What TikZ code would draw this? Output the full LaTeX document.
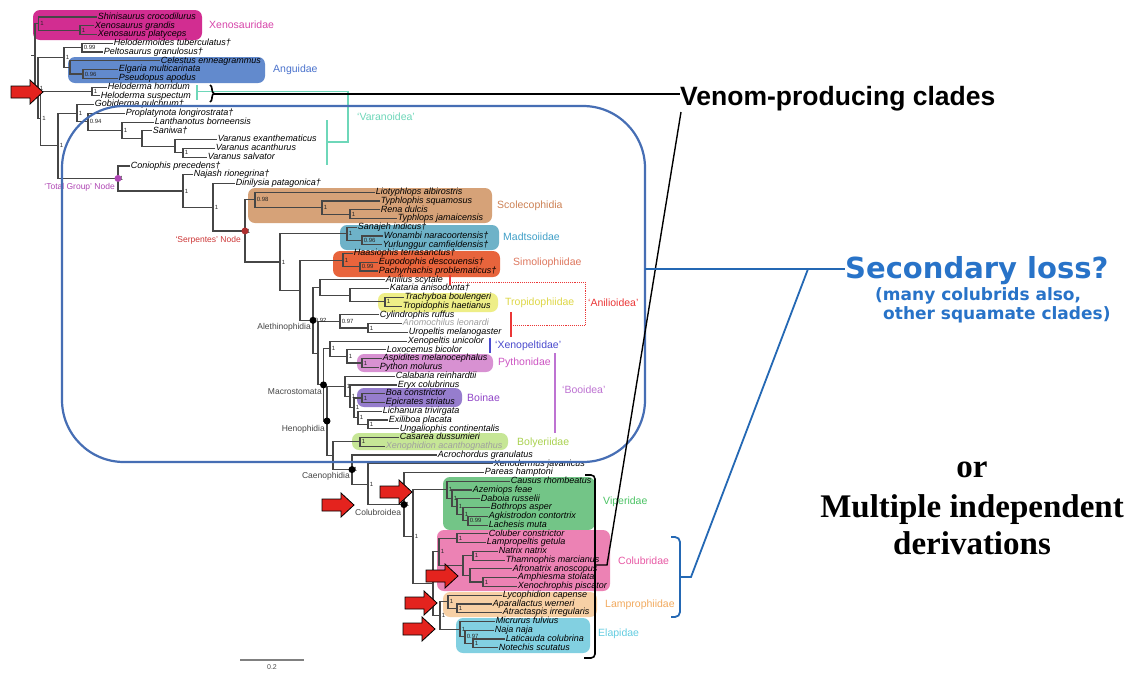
\documentclass[tikz,border=0pt]{standalone}
\usepackage{fontspec}
\setmainfont{Liberation Sans}
\newfontfamily\serifbold{Liberation Serif}
\newfontfamily\dejav{DejaVu Sans}
\usetikzlibrary{calc,decorations.pathreplacing}
\definecolor{treeg}{RGB}{70,70,70}
\definecolor{xenoF}{RGB}{210,45,145}
\definecolor{xenoT}{RGB}{215,70,170}
\definecolor{angF}{RGB}{98,138,205}
\definecolor{angT}{RGB}{75,115,205}
\definecolor{scoF}{RGB}{214,162,120}
\definecolor{scoT}{RGB}{205,130,85}
\definecolor{madF}{RGB}{110,178,200}
\definecolor{madT}{RGB}{65,160,200}
\definecolor{simF}{RGB}{232,100,60}
\definecolor{simT}{RGB}{222,120,95}
\definecolor{troF}{RGB}{238,238,135}
\definecolor{troT}{RGB}{222,215,70}
\definecolor{aniT}{RGB}{235,55,55}
\definecolor{xpT}{RGB}{75,75,205}
\definecolor{pyF}{RGB}{216,145,210}
\definecolor{pyT}{RGB}{205,85,195}
\definecolor{booT}{RGB}{190,115,210}
\definecolor{boaF}{RGB}{150,125,205}
\definecolor{boaT}{RGB}{145,70,200}
\definecolor{bolF}{RGB}{198,230,150}
\definecolor{bolT}{RGB}{170,210,80}
\definecolor{vipF}{RGB}{115,197,135}
\definecolor{vipT}{RGB}{75,195,100}
\definecolor{colF}{RGB}{236,130,180}
\definecolor{colT}{RGB}{232,90,165}
\definecolor{lamF}{RGB}{247,208,165}
\definecolor{lamT}{RGB}{242,170,95}
\definecolor{elaF}{RGB}{130,208,225}
\definecolor{elaT}{RGB}{100,205,225}
\definecolor{varT}{RGB}{110,215,185}
\definecolor{tgP}{RGB}{175,70,180}
\definecolor{serR}{RGB}{205,55,55}
\definecolor{blueL}{RGB}{70,110,180}
\definecolor{blueT}{RGB}{40,115,200}
\definecolor{arrR}{RGB}{228,35,30}
\definecolor{labg}{RGB}{70,70,70}
\tikzset{
  tipl/.style={anchor=west, inner sep=0.6pt, font=\fontsize{9}{9}\selectfont\itshape, text height=6.3pt, text depth=1.7pt, text=black},
  br/.style={draw=treeg, line width=1.15pt},
  supl/.style={anchor=west, inner sep=0.4pt, font=\fontsize{6}{6}\selectfont, text=black!85},
  clade/.style={anchor=west, inner sep=0pt, font=\fontsize{10.5}{11}\selectfont},
  nlab/.style={inner sep=0pt, font=\fontsize{8.5}{9}\selectfont, text=labg},
  cbox/.style={rounded corners=7pt},
  ndot/.style={circle, fill=black, inner sep=0pt, minimum size=7pt},
  redarrow/.style={fill=arrR, draw=black, line width=0.8pt, line join=miter},
}
\newcommand\tx[4][]{\coordinate (p#2) at (#3,{17+(#2-1)*8.76}); \node[tipl,#1] (t#2) at (p#2) {#4};}
\newcommand\mknode[4]{\path let \p1=($(#3)!.5!(#4)$) in coordinate (#1) at (#2pt,\y1); \draw[br] (#3) -| (#1) |- (#4);}
\newcommand\supv[2]{\node[supl] at ([xshift=1.2pt]#1) {#2};}
\newcommand\redarr[2]{\draw[redarrow] (#1,#2) -- ++(-13,-12) -- ++(0,6) -- ++(-19,0) -- ++(0,12) -- ++(19,0) -- ++(0,6) -- cycle;}
\begin{document}
\begin{tikzpicture}[x=1pt,y=-1pt]
\useasboundingbox (0,0) rectangle (1130,673);
\fill[white] (0,0) rectangle (1130,673);
% clade boxes
\fill[xenoF,cbox] (33,10) rectangle (202,40);
\fill[angF,cbox] (68,57) rectangle (265,83);
\fill[scoF,cbox] (248,188) rectangle (492,223);
\fill[madF,cbox] (340,225) rectangle (499,250);
\fill[simF,cbox] (333,251) rectangle (500,277);
\fill[troF,cbox] (378,293) rectangle (498,312);
\fill[pyF,cbox] (357,354) rectangle (493,372);
\fill[boaF,cbox] (357,388) rectangle (462,407);
\fill[bolF,cbox] (352,433) rectangle (508,450);
\fill[vipF,cbox] (443,477) rectangle (595,530);
\fill[colF,cbox] (437,530) rectangle (610,591);
\fill[lamF,cbox] (443,592) rectangle (597,617);
\fill[elaF,cbox] (456,618) rectangle (590,653);
% tips
\tx{1}{97}{Shinisaurus crocodilurus}
\tx{2}{94}{Xenosaurus grandis}
\tx{3}{97}{Xenosaurus platyceps}
\tx{4}{113}{Helodermoides tuberculatus†}
\tx{5}{103}{Peltosaurus granulosus†}
\tx{6}{160}{Celestus enneagrammus}
\tx{7}{118}{Elgaria multicarinata}
\tx{8}{118}{Pseudopus apodus}
\tx{9}{107}{Heloderma horridum}
\tx{10}{100}{Heloderma suspectum}
\tx{11}{94}{Gobiderma pulchrum†}
\tx{12}{125}{Proplatynota longirostrata†}
\tx{13}{154}{Lanthanotus borneensis}
\tx{14}{152}{Saniwa†}
\tx{15}{217}{Varanus exanthematicus}
\tx{16}{215}{Varanus acanthurus}
\tx{17}{207}{Varanus salvator}
\tx{18}{130}{Coniophis precedens†}
\tx{19}{193}{Najash rionegrina†}
\tx{20}{235}{Dinilysia patagonica†}
\tx{21}{375}{Liotyphlops albirostris}
\tx{22}{380}{Typhlophis squamosus}
\tx{23}{380}{Rena dulcis}
\tx{24}{397}{Typhlops jamaicensis}
\tx{25}{357}{Sanajeh indicus†}
\tx{26}{383}{Wonambi naracoortensis†}
\tx{27}{382}{Yurlunggur camfieldensis†}
\tx{28}{353}{Haasiophis terrasanctus†}
\tx{29}{378}{Eupodophis descouensis†}
\tx{30}{378}{Pachyrhachis problematicus†}
\tx{31}{385}{Anilius scytale}
\tx{32}{389}{Kataria anisodonta†}
\tx{33}{404}{Trachyboa boulengeri}
\tx{34}{402}{Tropidophis haetianus}
\tx{35}{379}{Cylindrophis ruffus}
\tx[text=gray!75]{36}{402}{Anomochilus leonardi}
\tx{37}{408}{Uropeltis melanogaster}
\tx{38}{407}{Xenopeltis unicolor}
\tx{39}{386}{Loxocemus bicolor}
\tx{40}{382}{Aspidites melanocephalus}
\tx{41}{379}{Python molurus}
\tx{42}{395}{Calabaria reinhardtii}
\tx{43}{397}{Eryx colubrinus}
\tx{44}{385}{Boa constrictor}
\tx{45}{385}{Epicrates striatus}
\tx{46}{382}{Lichanura trivirgata}
\tx{47}{388}{Exiliboa placata}
\tx{48}{399}{Ungaliophis continentalis}
\tx{49}{399}{Casarea dussumieri}
\tx[text=gray!75]{50}{385}{Xenophidion acanthognathus}
\tx{51}{437}{Acrochordus granulatus}
\tx{52}{493}{Xenodermus javanicus}
\tx{53}{484}{Pareas hamptoni}
\tx{54}{510}{Causus rhombeatus}
\tx{55}{472}{Azemiops feae}
\tx{56}{480}{Daboia russelii}
\tx{57}{490}{Bothrops asper}
\tx{58}{488}{Agkistrodon contortrix}
\tx{59}{488}{Lachesis muta}
\tx{60}{488}{Coluber constrictor}
\tx{61}{486}{Lampropeltis getula}
\tx{62}{498}{Natrix natrix}
\tx{63}{505}{Thamnophis marcianus}
\tx{64}{512}{Afronatrix anoscopus}
\tx{65}{517}{Amphiesma stolata}
\tx{66}{517}{Xenochrophis piscator}
\tx{67}{502}{Lycophidion capense}
\tx{68}{492}{Aparallactus werneri}
\tx{69}{502}{Atractaspis irregularis}
\tx{70}{495}{Micrurus fulvius}
\tx{71}{494}{Naja naja}
\tx{72}{505}{Laticauda colubrina}
\tx{73}{498}{Notechis scutatus}
% tree: Anguimorpha
\mknode{Nxg}{80}{p2}{p3}
\mknode{Nxeno}{38.5}{p1}{Nxg}
\mknode{Nhp}{82}{p4}{p5}
\mknode{Nep}{83}{p7}{p8}
\mknode{Nangu}{70}{p6}{Nep}
\mknode{Nang}{64}{Nhp}{Nangu}
\mknode{Nhelo}{92}{p9}{p10}
\mknode{NV6}{183}{p16}{p17}
\mknode{NV5}{175}{p15}{NV6}
\mknode{NV4}{142}{p14}{NV5}
\mknode{NV3}{122}{p13}{NV4}
\mknode{NV2}{88}{p12}{NV3}
\mknode{NVar}{77}{p11}{NV2}
% snakes
\mknode{NScol3}{350}{p23}{p24}
\mknode{NScol2}{322}{p22}{NScol3}
\mknode{NScol}{255}{p21}{NScol2}
\mknode{NMad2}{362}{p26}{p27}
\mknode{NMad}{347}{p25}{NMad2}
\mknode{NSimo2}{360}{p29}{p30}
\mknode{NSimo}{343}{p28}{NSimo2}
\mknode{NTrop}{385}{p33}{p34}
\mknode{NKT}{350}{p32}{NTrop}
\mknode{NAnil}{320}{p31}{NKT}
\mknode{NUro2}{368}{p36}{p37}
\mknode{NUro}{340}{p35}{NUro2}
\mknode{NPy}{362}{p40}{p41}
\mknode{NLP}{347}{p39}{NPy}
\mknode{NPyC}{330}{p38}{NLP}
\mknode{NBoa}{362}{p44}{p45}
\mknode{NExU}{368}{p47}{p48}
\mknode{NUng}{358}{p46}{NExU}
\mknode{NB3}{354}{NBoa}{NUng}
\mknode{NB2}{350}{p43}{NB3}
\mknode{NBoo}{345}{p42}{NB2}
\mknode{NBol}{360}{p49}{p50}
% Colubroidea
\mknode{NV5v}{468}{p58}{p59}
\mknode{NV4v}{463}{p57}{NV5v}
\mknode{NV3v}{457}{p56}{NV4v}
\mknode{NV2v}{452}{p55}{NV3v}
\mknode{NVip}{447}{p54}{NV2v}
\mknode{NCL}{457}{p60}{p61}
\mknode{NNT}{473}{p62}{p63}
\mknode{NAX}{483}{p65}{p66}
\mknode{NAfr}{470}{p64}{NAX}
\mknode{NNat}{463}{NNT}{NAfr}
\mknode{NColub}{439}{NCL}{NNat}
\mknode{NLam2}{457}{p68}{p69}
\mknode{NLam}{448}{p67}{NLam2}
\mknode{NElap3}{473}{p72}{p73}
\mknode{NElap2}{465}{p71}{NElap3}
\mknode{NElap}{460}{p70}{NElap2}
\mknode{NLE}{440}{NLam}{NElap}
\mknode{NCE}{433}{NColub}{NLE}
\mknode{NCol2}{413}{NVip}{NCE}
\mknode{NCol1}{404}{p53}{NCol2}
\mknode{NC2}{368}{p52}{NCol1}
\mknode{NCaen}{352}{p51}{NC2}
\mknode{NBC}{333}{NBol}{NCaen}
\mknode{NHen}{327}{NBoo}{NBC}
\mknode{NMac}{323.5}{NPyC}{NHen}
\mknode{NA2}{318}{NUro}{NMac}
\mknode{NAleth}{313}{NAnil}{NA2}
\mknode{NS5}{300}{NSimo}{NAleth}
\mknode{NS4}{280}{NMad}{NS5}
\mknode{NSerp}{245}{NScol}{NS4}
\mknode{NS2}{213}{p20}{NSerp}
\mknode{NS1}{183}{p19}{NS2}
\mknode{NTG}{118}{p18}{NS1}
\mknode{N3}{58}{NVar}{NTG}
\mknode{N2}{40.5}{Nhelo}{N3}
\mknode{N1}{38}{Nang}{N2}
\mknode{R}{35}{Nxeno}{N1}
\draw[br] (R) -- ++(-4,0);
% support values
\supv{Nxeno}{1}\supv{Nxg}{1}\supv{Nhp}{0.99}\supv{Nang}{1}\supv{Nep}{0.96}
\supv{N1}{1}\supv{Nhelo}{1}\supv{N2}{1}\supv{NVar}{1}\supv{NV2}{0.94}
\supv{NV3}{1}\supv{N3}{1}\supv{NV6}{1}\supv{NTG}{1}\supv{NS1}{1}\supv{NS2}{1}
\supv{NScol}{0.98}\supv{NSerp}{1}\supv{NScol2}{1}\supv{NScol3}{1}\supv{NS4}{1}
\supv{NMad}{1}\supv{NMad2}{0.96}\supv{NSimo}{1}\supv{NSimo2}{0.99}\supv{NTrop}{1}
\supv{NAleth}{0.92}\supv{NUro}{0.97}\supv{NUro2}{1}\supv{NPyC}{1}\supv{NLP}{1}\supv{NPy}{1}
\supv{NBoo}{1}\supv{NB2}{1}\supv{NB3}{1}\supv{NBoa}{1}\supv{NUng}{1}\supv{NExU}{1}
\supv{NBol}{1}\supv{NCaen}{1}\supv{NC2}{1}\supv{NCol1}{1}\supv{NCol2}{1}
\supv{NVip}{1}\supv{NV2v}{1}\supv{NV3v}{1}\supv{NV4v}{1}\supv{NV5v}{0.99}
\supv{NColub}{1}\supv{NCL}{1}\supv{NNT}{1}\supv{NAX}{1}\supv{NLam}{1}\supv{NLam2}{1}
\supv{NLE}{1}\supv{NElap}{1}\supv{NElap2}{0.97}\supv{NElap3}{1}
% node dots
\node[ndot,fill=tgP] at (NTG) {};
\node[ndot,fill=serR!85!black] at (NSerp) {};
\foreach \n in {NAleth,NMac,NHen,NCaen,NCol1} \node[ndot] at (\n) {};
% node labels
\node[nlab,anchor=east,text=tgP] at (115,187) {`Total Group' Node};
\node[nlab,anchor=east,text=serR] at (241,240) {`Serpentes' Node};
\node[nlab,anchor=east] at (311,327) {Alethinophidia};
\node[nlab,anchor=east] at (322,392) {Macrostomata};
\node[nlab,anchor=east] at (325,429) {Henophidia};
\node[nlab,anchor=east] at (350,476) {Caenophidia};
\node[nlab,anchor=west] at (355,512) {Colubroidea};
% clade labels
\node[clade,text=xenoT] at (209,25) {Xenosauridae};
\node[clade,text=angT] at (273,70) {Anguidae};
\node[clade,text=varT] at (357,117) {`Varanoidea'};
\node[clade,text=scoT] at (497,206) {Scolecophidia};
\node[clade,text=madT] at (503,237) {Madtsoiidae};
\node[clade,text=simT] at (513,263) {Simoliophiidae};
\node[clade,text=troT] at (505,303) {Tropidophiidae};
\node[clade,text=aniT] at (588,303) {`Anilioidea'};
\node[clade,text=xpT] at (495,346) {`Xenopeltidae'};
\node[clade,text=pyT] at (498,363) {Pythonidae};
\node[clade,text=booT] at (562,390) {`Booidea'};
\node[clade,text=boaT] at (467,398) {Boinae};
\node[clade,text=bolT] at (517,443) {Bolyeriidae};
\node[clade,text=vipT] at (603,502) {Viperidae};
\node[clade,text=colT] at (618,561) {Colubridae};
\node[clade,text=lamT] at (605,605) {Lamprophiidae};
\node[clade,text=elaT] at (598,634) {Elapidae};
% group bars
\draw[varT,line width=1.2pt] (197,85) -- (197,100);
\draw[varT,line width=1.2pt] (197,91.5) -- (348,91.5) -- (348,142) -- (327,142);
\draw[varT,line width=1.2pt] (327,120) -- (327,165);
\draw[aniT,line width=1.5pt] (450,275) -- (450,285);
\draw[aniT,line width=1.5pt] (511,312) -- (511,337);
\draw[aniT,line width=0.9pt,densely dotted] (450,282) -- (585,282) -- (585,325) -- (511,325);
\draw[xpT,line width=1.4pt] (490,338) -- (490,353);
\draw[booT,line width=1.4pt] (555,353) -- (555,433);
% red arrows
\redarr{43}{92}
\redarr{354}{505}
\redarr{412}{492}
\redarr{458}{576}
\redarr{437}{603}
\redarr{435}{629}
% scale bar
\draw[gray,line width=1.5pt] (240,660) -- (304,660);
\node[font=\fontsize{7}{7}\selectfont,text=black!70,anchor=north,inner sep=0pt] at (272,664) {0.2};
% big blue rounded box
\draw[blueL,line width=2.2pt,rounded corners=62pt] (62,106) rectangle (645,462);
% venom connectors
\node[anchor=base west,inner sep=0pt,font=\fontsize{26.5}{27}\selectfont\bfseries] (venom) at (680,105) {Venom-producing clades};
\coordinate (vb) at (214,94);
\coordinate (vt) at (681,112);
\coordinate (vk) at (607,565);
\draw[black,line width=1.6pt,decorate,decoration={brace,amplitude=4pt}] (210,85) -- (210,102);
\draw[black,line width=1.6pt] (vb) -- (venom.west |- vb);
\draw[black,line width=1.4pt] (vt) -- (vk) -- (595,565);
\draw[black,line width=1.6pt,rounded corners=4pt] (585,475) -- (595,475) -- (595,658) -- (584,658);
% secondary loss
\node[anchor=base west,inner sep=0pt,text=blueT,font=\dejav\bfseries\fontsize{29}{30}\selectfont] (sec) at (845,278) {Secondary loss?};
\node[anchor=base west,inner sep=0pt,text=blueT,font=\dejav\bfseries\fontsize{17}{18}\selectfont] (sub1) at (875,300) {(many colubrids also,};
\node[anchor=base west,inner sep=0pt,text=blueT,font=\dejav\bfseries\fontsize{17}{18}\selectfont] (sub2) at (883,319) {other squamate clades)};
\coordinate (sr) at (645,269);
\coordinate (sk) at (808,269);
\coordinate (sb) at (691,577);
\draw[blueT!90!black,line width=1.8pt] (sr) -- (sec.west |- sr);
\draw[blueT!90!black,line width=1.8pt] (sk) -- (sb) -- (681,577);
\draw[blueT!90!black,line width=1.8pt,rounded corners=5pt] (671,537) -- (680,537) -- (680,617) -- (671,617);
% or multiple
\node[inner sep=0pt,anchor=base,font=\serifbold\bfseries\fontsize{33}{34}\selectfont] (or) at (972,477) {or};
\node[inner sep=0pt,anchor=base,font=\serifbold\bfseries\fontsize{33}{34}\selectfont] (mult) at (972,517) {Multiple independent};
\node[inner sep=0pt,anchor=base,font=\serifbold\bfseries\fontsize{33}{34}\selectfont] (deriv) at (972,554) {derivations};
\end{tikzpicture}
\end{document}
